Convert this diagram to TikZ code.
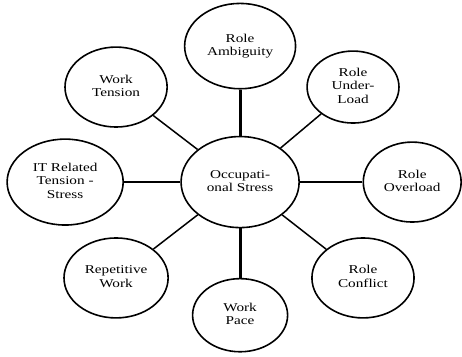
\documentclass[tikz,border=0pt]{standalone}
\usepackage{fontspec}
\setmainfont{Liberation Serif}
\usepackage{graphicx}
\usetikzlibrary{shapes.geometric}
\newcommand{\widelabel}[1]{\scalebox{1.27}[1]{\begin{tabular}{@{}c@{}}#1\end{tabular}}}
\tikzset{
  factor/.style={draw, ellipse, line width=1.6pt, inner sep=0pt, align=center, font=\fontsize{12}{13.3}\selectfont},
  spoke/.style={line width=3pt},
  hspoke/.style={line width=2.5pt},
  dspoke/.style={line width=1.5pt}
}

\begin{document}
\begin{tikzpicture}
  \useasboundingbox (-8.44,-6.12) rectangle (7.80,6.40);
  % hub
  \node[factor, minimum width=4.15cm, minimum height=3.2cm] (stress) at (0,0) {\widelabel{Occupati-\\onal Stress}};
  % factors around the hub
  \node[factor, minimum width=3.9cm, minimum height=3.0cm] (ambig) at (0,4.78) {\widelabel{Role\\Ambiguity}};
  \node[factor, minimum width=3.23cm, minimum height=2.53cm] (under) at (3.97,3.34) {\widelabel{Role\\Under-\\Load}};
  \node[factor, minimum width=3.44cm, minimum height=2.81cm] (over) at (6.05,0) {\widelabel{Role\\Overload}};
  \node[factor, minimum width=3.59cm, minimum height=2.81cm] (confl) at (4.32,-3.37) {\widelabel{Role\\Conflict}};
  \node[factor, minimum width=3.34cm, minimum height=2.57cm] (pace) at (0,-4.68) {\widelabel{Work\\Pace}};
  \node[factor, minimum width=3.66cm, minimum height=2.81cm] (repet) at (-4.36,-3.37) {\widelabel{Repetitive\\Work}};
  \node[factor, minimum width=4.08cm, minimum height=3.02cm] (itrel) at (-6.15,0) {\widelabel{IT Related\\Tension -\\Stress}};
  \node[factor, minimum width=3.59cm, minimum height=2.81cm] (tension) at (-4.36,3.34) {\widelabel{Work\\Tension}};
  % spokes
  \draw[spoke] (stress) -- (ambig);
  \draw[spoke] (stress) -- (pace);
  \draw[hspoke] (stress) -- (over);
  \draw[hspoke] (stress) -- (itrel);
  \draw[dspoke] (stress) -- (under);
  \draw[dspoke] (stress) -- (confl);
  \draw[dspoke] (stress) -- (repet);
  \draw[dspoke] (stress) -- (tension);
\end{tikzpicture}
\end{document}
